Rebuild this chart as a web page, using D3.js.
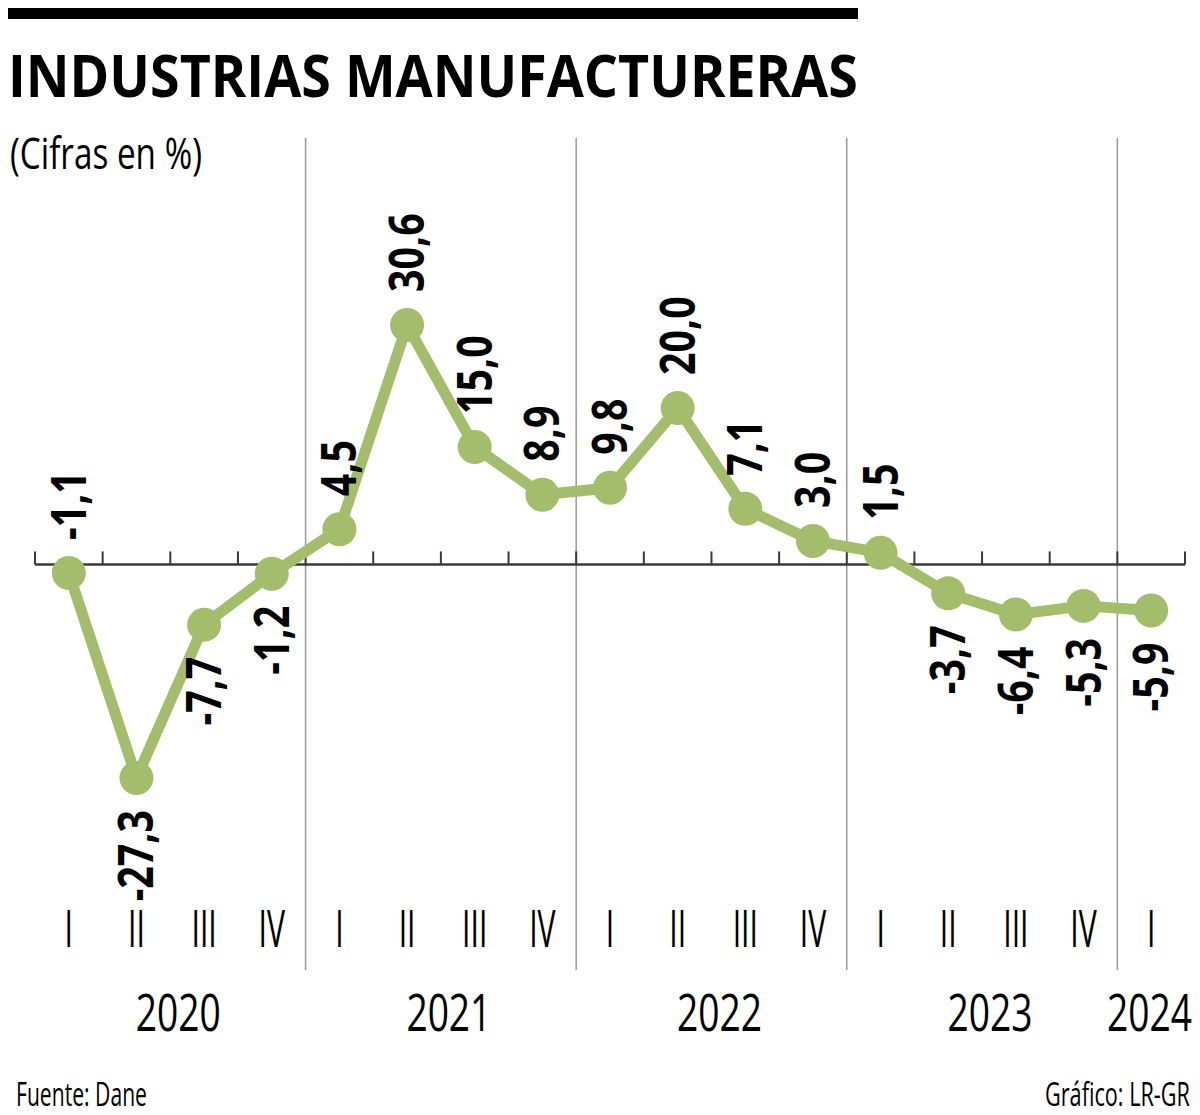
<!DOCTYPE html>
<html>
<head>
<meta charset="utf-8">
<script src="https://cdn.jsdelivr.net/npm/d3@7"></script>
<style>
  html, body { margin: 0; padding: 0; background: #fff; }
  svg { display: block; }
  text { font-family: "Open Sans", "Noto Sans", sans-serif; fill: #000; }
</style>
</head>
<body>
<script>
// ---- Data ----
const quarters = ["I","II","III","IV","I","II","III","IV","I","II","III","IV","I","II","III","IV","I"];
const quarterYears = ["2020","2020","2020","2020","2021","2021","2021","2021","2022","2022","2022","2022","2023","2023","2023","2023","2024"];
const years = ["2020","2021","2022","2023","2024"];
const values = [-1.1, -27.3, -7.7, -1.2, 4.5, 30.6, 15.0, 8.9, 9.8, 20.0, 7.1, 3.0, 1.5, -3.7, -6.4, -5.3, -5.9];

const title = "INDUSTRIAS MANUFACTURERAS";
const subtitle = "(Cifras en %)";
const source = "Fuente: Dane";
const credit = "Gráfico: LR-GR";

// ---- Layout ----
const W = 1200, H = 1115;
const green = "#a3bd6c";

const svg = d3.select("body").append("svg").attr("width", W).attr("height", H);

const x = d3.scaleLinear().domain([-0.5, quarters.length - 0.5]).range([35, 1185]);
const y = d3.scaleLinear().domain([-27.3, 30.6]).range([778, 325]);
const y0 = y(0);

// helper: place text and squeeze horizontally to a target width
function fitText(sel, tx, ty, target) {
  const len = sel.node().getComputedTextLength();
  const s = target / len;
  sel.attr("transform", `translate(${tx},${ty}) scale(${s},1)`);
  return sel;
}

// Top bar
svg.append("rect").attr("x", 8).attr("y", 8).attr("width", 850).attr("height", 11).attr("fill", "#000");

// Title
fitText(svg.append("text").attr("font-size", 59).attr("font-weight", 700).text(title), 8, 97, 850);

// Subtitle
fitText(svg.append("text").attr("font-size", 43).attr("font-weight", 400).text(subtitle), 10, 169, 192);

// Year separators
const boundaries = d3.range(-0.5, quarters.length, 1);
const yearBreaks = [];
for (let i = 1; i < quarters.length; i++) {
  if (quarterYears[i] !== quarterYears[i - 1]) yearBreaks.push(i - 0.5);
}
svg.append("g").selectAll("line").data(yearBreaks).join("line")
  .attr("x1", d => x(d)).attr("x2", d => x(d))
  .attr("y1", 138).attr("y2", 970)
  .attr("stroke", "#9a9a9a").attr("stroke-width", 1.5);

// Baseline axis with upward ticks
const axisG = svg.append("g");
axisG.append("line")
  .attr("x1", x(-0.5)).attr("x2", x(quarters.length - 0.5))
  .attr("y1", y0).attr("y2", y0)
  .attr("stroke", "#3a3a3a").attr("stroke-width", 2.5);
axisG.selectAll("line.tick").data(boundaries).join("line").attr("class", "tick")
  .attr("x1", d => x(d)).attr("x2", d => x(d))
  .attr("y1", y0).attr("y2", y0 - 13)
  .attr("stroke", "#3a3a3a").attr("stroke-width", 2);

// Line
const line = d3.line().x((d, i) => x(i)).y(d => y(d));
svg.append("path").datum(values)
  .attr("d", line).attr("fill", "none")
  .attr("stroke", green).attr("stroke-width", 11)
  .attr("stroke-linejoin", "round");

// Dots
svg.append("g").selectAll("circle").data(values).join("circle")
  .attr("cx", (d, i) => x(i)).attr("cy", d => y(d))
  .attr("r", 17).attr("fill", green);

// Value labels (rotated)
const fmt = v => v.toFixed(1).replace(".", ",");
svg.append("g").selectAll("text").data(values).join("text")
  .attr("font-size", 48).attr("font-weight", 700)
  .attr("text-anchor", (d, i) => (d >= 0 || i === 0) ? "start" : "end")
  .attr("transform", (d, i) => {
    const above = d >= 0 || i === 0;
    const ty = above ? y(d) - 33 : y(d) + 32;
    return `translate(${x(i) + 17},${ty}) rotate(-90) scale(0.82,1)`;
  })
  .text(d => fmt(d));

// Quarter labels
svg.append("g").selectAll("text").data(quarters).join("text")
  .attr("font-size", 52).attr("font-weight", 400)
  .attr("text-anchor", "middle")
  .attr("transform", (d, i) => `translate(${x(i)},947) scale(0.58,1)`)
  .text(d => d);

// Year labels
const yearCenters = years.map(yr => {
  const idx = quarterYears.map((q, i) => q === yr ? i : -1).filter(i => i >= 0);
  return d3.mean(idx, i => x(i));
});
const yearW = 85;
svg.append("g").selectAll("text").data(years).join("text")
  .attr("font-size", 52).attr("font-weight", 400)
  .text(d => d)
  .each(function(d, i) {
    const cx = Math.min(yearCenters[i] + 8, 1192 - yearW / 2);
    fitText(d3.select(this), cx - yearW / 2, 1031, yearW);
  });

// Footer
fitText(svg.append("text").attr("font-size", 32).attr("font-weight", 400).text(source), 16, 1106, 131);
fitText(svg.append("text").attr("font-size", 32).attr("font-weight", 400).text(credit), 1045, 1106, 145);
</script>
</body>
</html>
